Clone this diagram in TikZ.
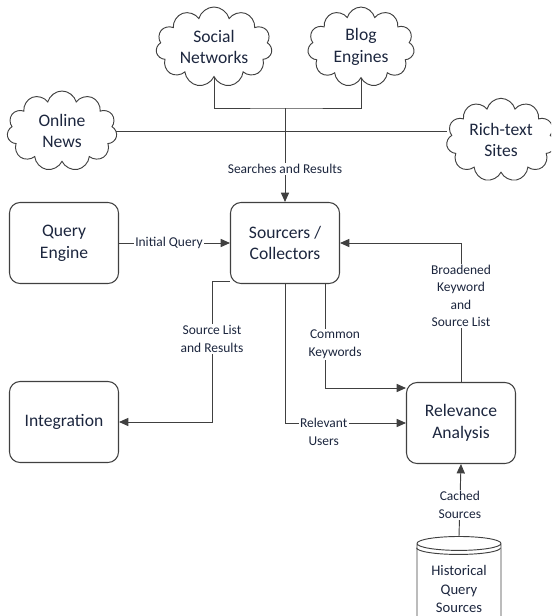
\documentclass[tikz,border=0pt]{standalone}
\usepackage{fontspec}
\setmainfont{Carlito}
\usetikzlibrary{shapes.symbols,shapes.geometric,arrows.meta}
\definecolor{txt}{RGB}{28,38,62}
\definecolor{ln}{RGB}{64,64,64}
\begin{document}
\begin{tikzpicture}[x=0.03cm, y=-0.03cm, >={Triangle[length=8pt,width=7pt]},
  box/.style={draw=ln, line width=0.9pt, rounded corners=9pt, minimum width=3.27cm, minimum height=2.43cm, align=center, text=txt, font=\fontsize{15}{18.5}\selectfont},
  src/.style={cloud, draw=ln, line width=0.8pt, cloud puffs=11, cloud ignores aspect, minimum width=3.2cm, minimum height=2.3cm, align=center, text=txt, font=\fontsize{15}{18.5}\selectfont},
  lbl/.style={fill=white, inner sep=1pt, align=center, text=txt, font=\fontsize{11.5}{15}\selectfont},
  wire/.style={draw=ln, line width=0.8pt}]
\useasboundingbox (0,0) rectangle (551,616);
\clip (0,0) rectangle (551,616);
\node[src] (social) at (214,47) {Social\\Networks};
\node[src] (blog) at (361,47) {Blog\\Engines};
\node[src, minimum width=3.3cm, minimum height=2.4cm] (news) at (62,131) {Online\\News};
\node[src, minimum width=3.0cm, minimum height=2.5cm] (rich) at (501,140) {Rich-text\\Sites};
\node[box] (query) at (64,243) {Query\\Engine};
\node[box] (sourcers) at (285,243) {Sourcers /\\Collectors};
\node[box] (integ) at (64,422) {Integration};
\node[box] (relev) at (461,423) {Relevance\\Analysis};
\node[cylinder, shape border rotate=90, aspect=0.22, draw=ln, line width=0.8pt, minimum width=2.52cm, minimum height=2.6cm, align=center, text=txt, font=\fontsize{12.5}{15.5}\selectfont] (hist) at (459,585) {\mbox{}\\Historical\\Query\\Sources};
\draw[wire] ([yshift=-0.13cm]hist.west |- hist.before top) arc[start angle=180, end angle=360, x radius=1.26cm, y radius=0.2cm];
\coordinate (j) at (285,108);
\coordinate (sl) at (212,422);

\draw[wire] (social.south) |- (j) -| (blog.south);
\draw[wire] (news.east) -- (news.east -| rich.west);
\draw[wire, ->] (j) -- node[lbl, pos=0.65]{Searches and Results} (sourcers.north);
\draw[wire, ->] (query) -- node[lbl, pos=0.45]{Initial Query} (sourcers);
\draw[wire, ->] (relev.north) |- node[lbl, pos=0.31]{Broadened\\Keyword\\and\\Source List} (sourcers.east);
\draw[wire, ->] ([yshift=0.08cm]sourcers.south west) -| node[lbl, pos=0.705]{Source List\\and Results} (sl) -- (integ.east);
\draw[wire, ->] (sourcers.south) |- node[lbl, pos=0.66, yshift=-0.26cm]{Relevant\\Users} (relev.west);
\draw[wire, ->] ([xshift=1.2cm]sourcers.south) |- node[lbl, pos=0.29, xshift=0.3cm]{Common\\Keywords} ([yshift=1.05cm]relev.west);
\draw[wire, ->] (hist.north) -- node[lbl, pos=0.43]{Cached\\Sources} (relev.south);
\end{tikzpicture}
\end{document}
